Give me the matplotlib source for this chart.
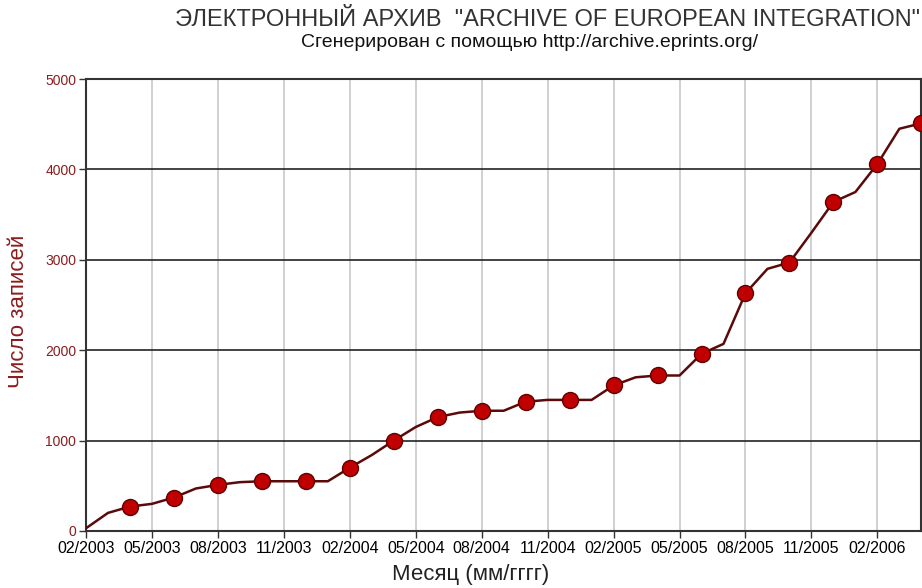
import matplotlib
matplotlib.use("Agg")
import matplotlib.pyplot as plt
import numpy as np

plt.rcParams['font.family'] = ['Liberation Sans', 'DejaVu Sans']
narrow = ['Liberation Sans Narrow', 'Liberation Sans', 'DejaVu Sans']

# monthly totals, month 0 = 02/2003
months = np.arange(0, 39)
records = [30, 200, 270, 300, 370, 470, 510, 540, 550, 550,
           550, 550, 700, 840, 1000, 1150, 1260, 1310, 1330, 1330,
           1430, 1450, 1450, 1450, 1610, 1700, 1720, 1720, 1960, 2070,
           2630, 2900, 2970, 3300, 3640, 3750, 4060, 4450, 4510]

tick_months = np.arange(0, 37, 3)
tick_labels = ["02/2003", "05/2003", "08/2003", "11/2003", "02/2004", "05/2004",
               "08/2004", "11/2004", "02/2005", "05/2005", "08/2005", "11/2005", "02/2006"]
y_ticks = [0, 1000, 2000, 3000, 4000, 5000]

dark_red = "#8b1c1c"

fig = plt.figure(figsize=(9.22, 5.88), dpi=100)
ax = fig.add_axes([0.0933, 0.097, 0.906, 0.7686])

ax.plot(months, records, color="#5a0a0a", lw=1.8, zorder=3,
        marker="o", markevery=list(range(2, 39, 2)), markersize=11.5,
        markerfacecolor="#c00000", markeredgecolor="#600000", markeredgewidth=1.0)

ax.set_xlim(0, 38)
ax.set_ylim(0, 5000)
ax.set_xticks(tick_months)
ax.set_xticklabels(tick_labels, fontsize=11.5)
ax.set_yticks(y_ticks)
ax.set_yticklabels([str(v) for v in y_ticks], fontsize=10, color=dark_red)
ax.tick_params(axis="both", direction="out", length=5, width=1, color="#333333", pad=2)

ax.yaxis.grid(True, color="#222222", lw=1.2)
ax.xaxis.grid(True, color="#c8c8c8", lw=1.2)
ax.set_axisbelow(True)
for s in ax.spines.values():
    s.set_color("#333333")
    s.set_linewidth(1.5)

ax.set_ylabel("Число записей", fontsize=16, color=dark_red, family=narrow)
ax.yaxis.set_label_coords(-0.068, 0.485)
ax.set_xlabel("Месяц (мм/гггг)", fontsize=16, color="#222222")
ax.xaxis.set_label_coords(0.46, -0.072)

fig.text(0.594, 0.966, 'ЭЛЕКТРОННЫЙ АРХИВ  "ARCHIVE OF EUROPEAN INTEGRATION"',
         ha="center", va="center", fontsize=17, color="#333333")
fig.text(0.574, 0.927, "Сгенерирован с помощью http://archive.eprints.org/",
         ha="center", va="center", fontsize=14, color="#111111", family=narrow)

fig.savefig("out.png", dpi=100)
